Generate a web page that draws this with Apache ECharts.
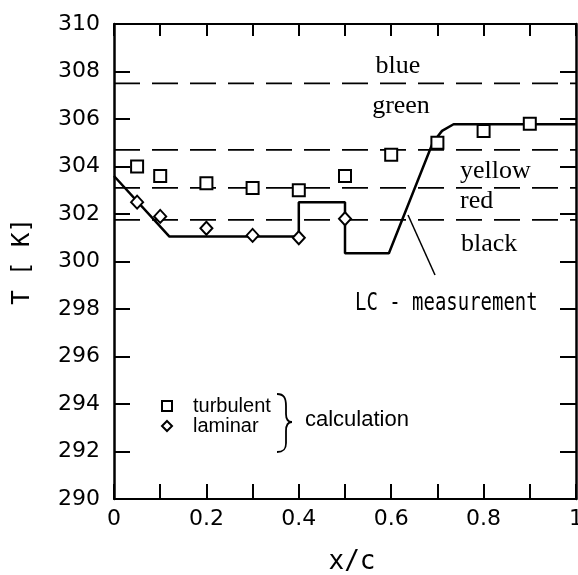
<!DOCTYPE html>
<html>
<head>
<meta charset="utf-8">
<script src="https://cdn.jsdelivr.net/npm/echarts@6/dist/echarts.min.js"></script>
<style>
html,body{margin:0;padding:0;background:#fff;}
#chart{width:578px;height:575px;}
</style>
</head>
<body>
<div id="chart"></div>
<script>
// ---- data ----
const xTickLabels = ['0', '0.2', '0.4', '0.6', '0.8', '1'];
const yTickLabels = ['290', '292', '294', '296', '298', '300', '302', '304', '306', '308', '310'];

const turbulentX = [0.05, 0.1, 0.2, 0.3, 0.4, 0.5, 0.6, 0.7, 0.8, 0.9];
const turbulentT = [304.0, 303.6, 303.3, 303.1, 303.0, 303.6, 304.5, 305.0, 305.5, 305.8];

const laminarX = [0.05, 0.1, 0.2, 0.3, 0.4, 0.5];
const laminarT = [302.5, 301.9, 301.4, 301.1, 301.0, 301.8];

const lcX = [0, 0.12, 0.4, 0.4, 0.5, 0.5, 0.595, 0.69, 0.71, 0.735, 1.0];
const lcT = [303.6, 301.05, 301.05, 302.5, 302.5, 300.35, 300.35, 305.0, 305.5, 305.78, 305.78];

const bandNames = ['blue/green', 'green/yellow', 'yellow/red', 'red/black'];
const bandLevels = [307.5, 304.7, 303.1, 301.75];
const bandLabels = ['blue', 'green', 'yellow', 'red', 'black'];

// ---- chart ----
const chart = echarts.init(document.getElementById('chart'), null, {renderer: 'canvas'});
const zip = (xs, ys) => xs.map((x, i) => [x, ys[i]]);

const tickFont = {fontFamily: '"DejaVu Sans"', fontSize: 22, color: '#000'};

const bandSeries = bandLevels.map((lv, i) => ({
  name: bandNames[i],
  type: 'line',
  data: [[0, lv], [1, lv]],
  symbol: 'none',
  silent: true,
  lineStyle: {color: '#000', width: 1.8, type: [26, 12]},
  z: 2
}));

const braceStyle = {stroke: '#000', lineWidth: 1.8, fill: null};

const option = {
  backgroundColor: '#fff',
  animation: false,
  grid: {left: 114, right: 2, top: 24, bottom: 76, outerBoundsMode: 'none'},
  legend: {
    data: ['turbulent', 'laminar'],
    orient: 'vertical',
    left: 156,
    top: 391,
    itemWidth: 10,
    itemHeight: 10,
    itemGap: 0,
    textStyle: {fontFamily: '"Liberation Sans"', fontSize: 20, color: '#000', padding: [0, 0, 0, 16]}
  },
  xAxis: [{
    type: 'value', min: 0, max: 1, interval: 0.1, position: 'bottom',
    name: 'x/c', nameLocation: 'middle', nameGap: 50,
    nameTextStyle: {fontFamily: '"DejaVu Sans Mono"', fontSize: 26, color: '#000', padding: [0, 0, 0, 14]},
    axisLine: {show: true, onZero: false, lineStyle: {color: '#000', width: 2}},
    axisTick: {show: true, inside: true, length: 15, lineStyle: {color: '#000', width: 2}},
    axisLabel: Object.assign({
      margin: 9,
      formatter: v => {
        const k = Math.round(v * 10);
        return k % 2 === 0 ? xTickLabels[k / 2] : '';
      }
    }, tickFont),
    splitLine: {show: false}
  }, {
    type: 'value', min: 0, max: 1, interval: 0.1, position: 'top',
    axisLine: {show: true, onZero: false, lineStyle: {color: '#000', width: 2}},
    axisTick: {show: true, inside: true, length: 12, lineStyle: {color: '#000', width: 2}},
    axisLabel: {show: false},
    splitLine: {show: false}
  }],
  yAxis: [{
    type: 'value', min: 290, max: 310, interval: 2, position: 'left',
    name: 'T [ K]', nameLocation: 'middle', nameGap: 79, nameRotate: 90,
    nameTextStyle: {fontFamily: '"DejaVu Sans Mono"', fontSize: 24, color: '#000'},
    axisLine: {show: true, onZero: false, lineStyle: {color: '#000', width: 2.5}},
    axisTick: {show: true, inside: true, length: 16, lineStyle: {color: '#000', width: 2}},
    axisLabel: Object.assign({
      margin: 14,
      formatter: v => yTickLabels[Math.round((v - 290) / 2)]
    }, tickFont),
    splitLine: {show: false}
  }, {
    type: 'value', min: 290, max: 310, interval: 2, position: 'right',
    axisLine: {show: true, onZero: false, lineStyle: {color: '#000', width: 2.5}},
    axisTick: {show: true, inside: true, length: 16, lineStyle: {color: '#000', width: 2}},
    axisLabel: {show: false},
    splitLine: {show: false}
  }],
  series: bandSeries.concat([
    {
      name: 'LC - measurement',
      type: 'line',
      data: zip(lcX, lcT),
      symbol: 'none',
      lineStyle: {color: '#000', width: 2.5},
      z: 3
    },
    {
      name: 'turbulent',
      type: 'scatter',
      data: zip(turbulentX, turbulentT),
      symbol: 'rect',
      symbolSize: 12,
      itemStyle: {color: '#fff', borderColor: '#000', borderWidth: 2, opacity: 1},
      z: 5
    },
    {
      name: 'laminar',
      type: 'scatter',
      data: zip(laminarX, laminarT),
      symbol: 'diamond',
      symbolSize: [12, 13],
      itemStyle: {color: '#fff', borderColor: '#000', borderWidth: 2, opacity: 1},
      z: 5
    }
  ]),
  graphic: [
    {type: 'text', x: 398, y: 66, style: {text: bandLabels[0], font: '26px "Liberation Serif"', fill: '#000', align: 'center', verticalAlign: 'middle'}},
    {type: 'text', x: 401, y: 106, style: {text: bandLabels[1], font: '26px "Liberation Serif"', fill: '#000', align: 'center', verticalAlign: 'middle'}},
    {type: 'text', x: 460, y: 171, style: {text: bandLabels[2], font: '26px "Liberation Serif"', fill: '#000', align: 'left', verticalAlign: 'middle'}},
    {type: 'text', x: 460, y: 201, style: {text: bandLabels[3], font: '26px "Liberation Serif"', fill: '#000', align: 'left', verticalAlign: 'middle'}},
    {type: 'text', x: 461, y: 244, style: {text: bandLabels[4], font: '26px "Liberation Serif"', fill: '#000', align: 'left', verticalAlign: 'middle'}},
    {type: 'text', x: 355, y: 304, scaleX: 0.79, style: {text: 'LC - measurement', font: '24px "DejaVu Sans Mono"', fill: '#000', align: 'left', verticalAlign: 'middle'}},
    {type: 'line', shape: {x1: 408, y1: 215, x2: 435, y2: 275}, style: {stroke: '#000', lineWidth: 1.5}},
    {type: 'bezierCurve', shape: {x1: 277, y1: 394, cpx1: 284, cpy1: 394, cpx2: 286, cpy2: 398, x2: 286, y2: 406}, style: braceStyle},
    {type: 'line', shape: {x1: 286, y1: 406, x2: 286, y2: 414}, style: braceStyle},
    {type: 'bezierCurve', shape: {x1: 286, y1: 414, cpx1: 286, cpy1: 419, cpx2: 288, cpy2: 422, x2: 292, y2: 422}, style: braceStyle},
    {type: 'bezierCurve', shape: {x1: 292, y1: 422, cpx1: 288, cpy1: 422, cpx2: 286, cpy2: 425, x2: 286, y2: 431}, style: braceStyle},
    {type: 'line', shape: {x1: 286, y1: 431, x2: 286, y2: 443}, style: braceStyle},
    {type: 'bezierCurve', shape: {x1: 286, y1: 443, cpx1: 286, cpy1: 450, cpx2: 283, cpy2: 452, x2: 277, y2: 452}, style: braceStyle},
    {type: 'text', x: 305, y: 420, style: {text: 'calculation', font: '22px "Liberation Sans"', fill: '#000', align: 'left', verticalAlign: 'middle'}}
  ]
};

chart.setOption(option);
</script>
</body>
</html>
